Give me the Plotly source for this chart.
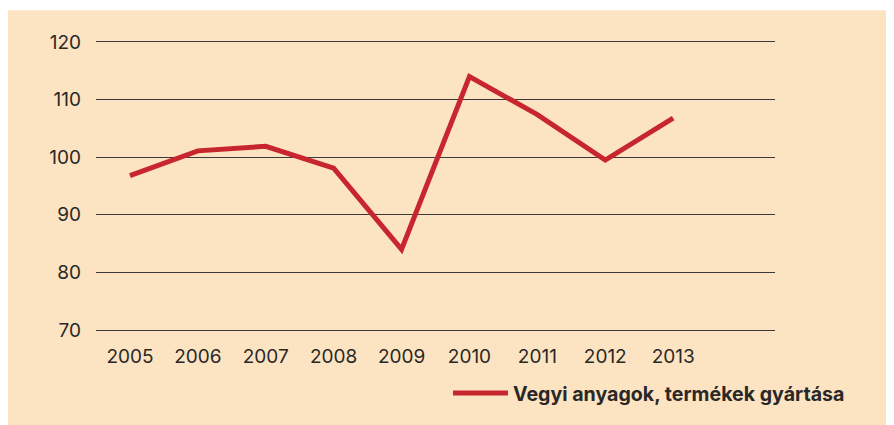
import plotly.graph_objects as go

years = ["2005", "2006", "2007", "2008", "2009", "2010", "2011", "2012", "2013"]
values = [96.8, 101.1, 101.9, 98.1, 84.0, 114.0, 107.4, 99.5, 106.8]
series_name = "Vegyi anyagok, termékek gyártása"
y_ticks = [70, 80, 90, 100, 110, 120]

BG = "#FCE3C2"
RED = "#C8262E"
GRID = "#3C3A38"
TXT = "#2A2826"
FONT = "Inter, Liberation Sans, Arial, sans-serif"

OFF = 8  # page body margin
W, H = 894 - OFF, 425 - OFF
L, T = 96 - OFF, 42 - OFF
R = W - (775 - OFF)
B = H - (333 - OFF)
pw, ph = W - L - R, H - T - B


def px(xp):
    return (xp - OFF - L) / pw


def py(yp):
    return (T + ph - (yp - OFF)) / ph


fig = go.Figure()
fig.add_trace(go.Scatter(
    x=list(range(len(years))), y=values, mode="lines", name=series_name,
    line=dict(color=RED, width=5), showlegend=True,
))

fig.add_shape(type="rect", xref="paper", yref="paper", layer="below",
              x0=px(0), x1=px(900), y0=py(430), y1=py(10),
              fillcolor=BG, line=dict(width=0))

fig.update_layout(
    width=W, height=H,
    margin=dict(l=L, r=R, t=T, b=B, pad=0),
    paper_bgcolor="white", plot_bgcolor="rgba(0,0,0,0)",
    font=dict(family=FONT, size=19, color=TXT),
    xaxis=dict(range=[-0.5, 9.5], tickvals=list(range(len(years))), ticktext=years,
               showgrid=False, zeroline=False, showline=True, mirror=True,
               linecolor=GRID, linewidth=1.4, ticks="",
               ticklabelstandoff=9, fixedrange=True),
    yaxis=dict(range=[70, 120], tickvals=y_ticks, showgrid=True, gridcolor=GRID,
               gridwidth=1.4, zeroline=False, showline=False, ticks="",
               ticklabelstandoff=14, fixedrange=True),
    showlegend=True,
    legend=dict(x=px(448), y=py(397), xanchor="left", yanchor="middle",
                bgcolor="rgba(0,0,0,0)", itemwidth=55,
                font=dict(family=FONT, size=19.6, color=TXT, weight="bold")),
)

fig.write_html("out.html")
